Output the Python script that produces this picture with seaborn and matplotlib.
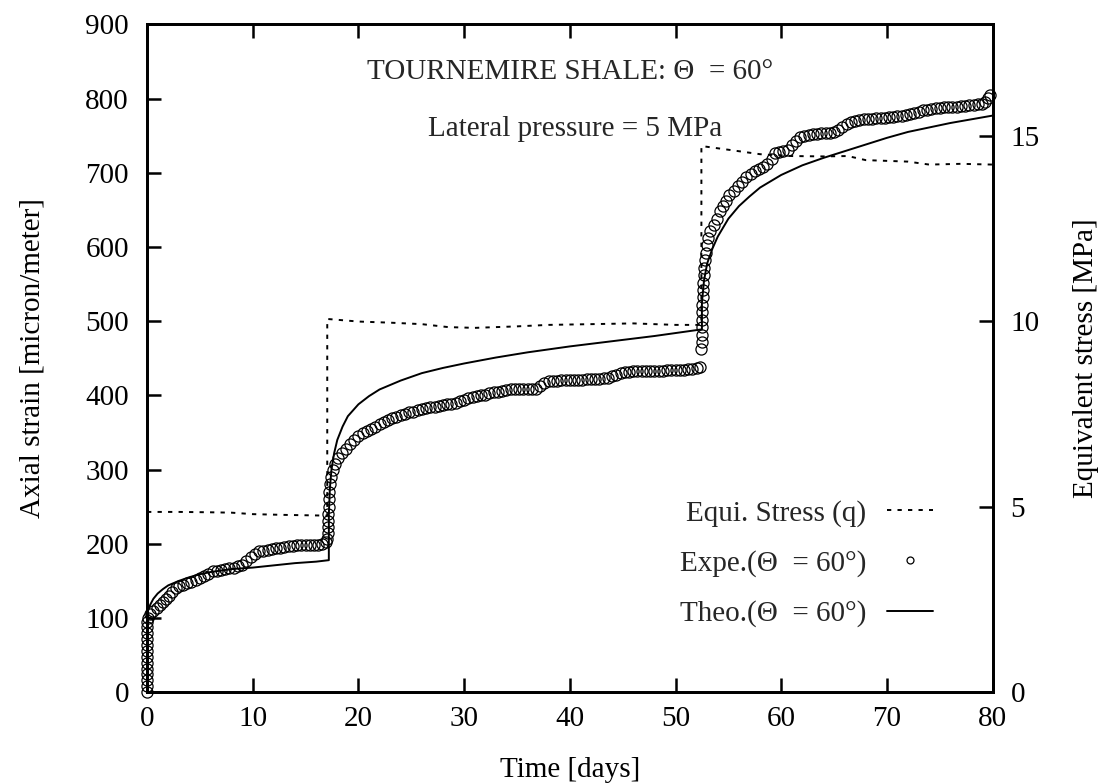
import matplotlib
matplotlib.use("Agg")
import matplotlib.pyplot as plt
from matplotlib.lines import Line2D
import numpy as np
import pandas as pd
import seaborn as sns

# ---------------- data ----------------
# Experimental points: time [days] and axial strain [micron/meter]
exp_day = [
    0, 0, 0, 0, 0, 0, 0, 0, 0, 0, 0, 0, 0,
    0.1, 0.3, 0.6, 0.9, 1.2, 1.5, 1.8, 2.1, 2.4, 2.7, 3.0, 3.4, 3.8, 4.2, 4.6,
    5.0, 5.4, 5.8, 6.2, 6.6, 7.0, 7.4, 7.8, 8.2, 8.6, 9.0, 9.4, 9.8, 10.2, 10.6,
    11.0, 11.4, 11.8, 12.2, 12.6, 13.0, 13.4, 13.8, 14.2, 14.6, 15.0, 15.4, 15.8,
    16.2, 16.6, 16.9,
    17.05, 17.1, 17.1, 17.12, 17.15, 17.18, 17.2, 17.25, 17.3, 17.4, 17.6, 17.8,
    18.1, 18.4, 18.8, 19.2, 19.6, 20.0, 20.4, 20.8, 21.2, 21.6, 22.0, 22.4, 22.8,
    23.2, 23.6, 24.0, 24.4, 24.8, 25.2, 25.6, 26.0, 26.4, 26.8, 27.2, 27.6, 28.0,
    28.4, 28.8, 29.2, 29.6, 30.0, 30.4, 30.8, 31.2, 31.6, 32.0, 32.4, 32.8, 33.2,
    33.6, 34.0, 34.4, 34.8, 35.2, 35.6, 36.0, 36.4, 36.8, 37.2, 37.6, 38.0, 38.4,
    38.8, 39.2, 39.6, 40.0, 40.4, 40.8, 41.2, 41.6, 42.0, 42.4, 42.8, 43.2, 43.6,
    44.0, 44.4, 44.8, 45.2, 45.6, 46.0, 46.4, 46.8, 47.2, 47.6, 48.0, 48.4, 48.8,
    49.2, 49.6, 50.0, 50.4, 50.8, 51.2, 51.6, 52.0, 52.3,
    52.45, 52.48, 52.5, 52.5, 52.52, 52.53, 52.55, 52.57, 52.6, 52.63, 52.67,
    52.72, 52.78, 52.85, 52.95, 53.1, 53.3, 53.6, 53.9, 54.2, 54.5, 54.8, 55.1,
    55.5, 55.9, 56.3, 56.7, 57.1, 57.5, 57.9, 58.3, 58.7, 59.1, 59.4, 59.8, 60.2,
    60.6, 61.0, 61.4, 61.8, 62.2, 62.6, 63.0, 63.4, 63.8, 64.2, 64.6, 65.0, 65.4,
    65.8, 66.2, 66.6, 67.0, 67.4, 67.8, 68.2, 68.6, 69.0, 69.4, 69.8, 70.2, 70.6,
    71.0, 71.4, 71.8, 72.2, 72.6, 73.0, 73.4, 73.8, 74.2, 74.6, 75.0, 75.4, 75.8,
    76.2, 76.6, 77.0, 77.4, 77.8, 78.2, 78.6, 79.0, 79.3, 79.6, 79.8,
]
exp_strain = [
    0, 8, 16, 24, 32, 40, 48, 56, 64, 72, 80, 88, 95,
    100, 106, 110, 114, 118, 122, 126, 130, 135, 140, 143, 145, 147, 149, 151,
    154, 156, 160, 163, 164, 165, 166, 167, 168, 170, 172, 177, 182, 186, 190,
    191, 192, 193, 194, 195, 196, 197, 197, 198, 198, 198, 199, 199,
    199, 200, 202,
    207, 215, 223, 231, 240, 250, 260, 270, 280, 290, 300, 308,
    316, 322, 328, 334, 340, 345, 349, 352, 355, 358, 361, 364, 367,
    369, 371, 373, 375, 377, 378, 380, 381, 383, 384, 385, 386, 387,
    388, 389, 390, 392, 394, 396, 398, 399, 400, 401, 403, 404, 405,
    406, 407, 408, 408, 408, 408, 408, 408, 409, 413, 417, 419, 420,
    420, 421, 421, 421, 421, 421, 421, 422, 422, 422, 422, 423, 424,
    426, 428, 430, 431, 432, 433, 433, 433, 433, 433, 433, 433, 433,
    434, 434, 434, 434, 434, 435, 436, 437, 438,
    462, 472, 482, 492, 502, 512, 522, 532, 542, 552, 562,
    572, 582, 592, 602, 612, 622, 630, 638, 648, 655, 662, 670,
    676, 682, 688, 694, 698, 702, 705, 708, 712, 718, 726, 728, 729,
    731, 738, 743, 748, 750, 751, 752, 752, 753, 753, 754, 755, 758,
    762, 766, 768, 770, 771, 772, 773, 773, 774, 774, 774, 775, 775,
    776, 777, 778, 779, 780, 782, 784, 785, 786, 787, 787, 788, 788,
    789, 789, 790, 790, 791, 791, 792, 793, 795, 801, 805,
]

# Theoretical curve
theo_day = [
    0, 0, 0.1, 0.3, 0.6, 1.0, 1.5, 2.0, 2.5, 3.0, 4.0, 5.0, 6.0, 7.0, 8.0, 9.0,
    10.0, 12.0, 14.0, 16.0, 17.2,
    17.2, 17.3, 17.45, 17.7, 18.0, 18.5, 19.0, 20.0, 21.0, 22.0, 24.0, 26.0,
    28.0, 30.0, 33.0, 36.0, 40.0, 44.0, 48.0, 52.5,
    52.5, 52.7, 53.0, 53.5, 54.0, 55.0, 56.0, 57.0, 58.0, 60.0, 62.0, 64.0,
    66.0, 68.0, 70.0, 72.0, 74.0, 76.0, 78.0, 80.0,
]
theo_strain = [
    0, 100, 110, 118, 126, 133, 139, 144, 147, 150, 155, 159, 162, 164, 166, 167,
    168, 171, 174, 176, 178,
    240, 275, 300, 322, 340, 358, 372, 388, 399, 408, 420, 430,
    437, 443, 451, 458, 466, 473, 480, 489,
    525, 555, 578, 598, 614, 638, 655, 668, 680, 697, 710, 720,
    729, 738, 747, 755, 761, 767, 772, 777,
]

# Equivalent stress q [MPa]
stress_day = [
    0, 3, 6, 8, 10, 13, 17.05,
    17.05, 20, 23, 26, 28.5, 31, 35, 38, 42, 46, 50, 52.45,
    52.45, 55, 58, 61, 64, 66.3, 68, 72, 74, 77, 80,
]
stress_mpa = [
    4.86, 4.86, 4.85, 4.84, 4.80, 4.78, 4.76,
    10.06, 9.99, 9.96, 9.92, 9.84, 9.82, 9.86, 9.90, 9.92, 9.94, 9.90, 9.90,
    14.72, 14.62, 14.50, 14.45, 14.44, 14.45, 14.34, 14.30, 14.22, 14.24, 14.22,
]

x_ticks = [0, 10, 20, 30, 40, 50, 60, 70, 80]
y_ticks = [0, 100, 200, 300, 400, 500, 600, 700, 800, 900]
y2_ticks = [0, 5, 10, 15]

lbl_stress = "Equi. Stress (q)"
lbl_exp = "Expe.(\u0398  = 60\u00b0)"
lbl_theo = "Theo.(\u0398  = 60\u00b0)"

# ---------------- styling ----------------
sns.set_theme(style="ticks")
plt.rcParams['font.family'] = ['Liberation Serif', 'DejaVu Serif']
FS = 21

exp_df = pd.DataFrame({"day": exp_day, "strain": exp_strain})
theo_df = pd.DataFrame({"day": theo_day, "strain": theo_strain})
stress_df = pd.DataFrame({"day": stress_day, "q": stress_mpa})

fig = plt.figure(figsize=(11.14, 7.84), dpi=100)
ax = fig.add_axes([0.132, 0.117, 0.759, 0.852])
ax2 = ax.twinx()

sns.lineplot(data=theo_df, x="day", y="strain", ax=ax, sort=False,
             estimator=None, color="black", linewidth=1.4, legend=False,
             zorder=3)
sns.lineplot(data=exp_df, x="day", y="strain", ax=ax, sort=False,
             estimator=None, color="black", linestyle="none", marker="o",
             markersize=8, markerfacecolor="none", markeredgecolor="black",
             markeredgewidth=0.9, legend=False, zorder=2, clip_on=False)
sns.lineplot(data=stress_df, x="day", y="q", ax=ax2, sort=False,
             estimator=None, color="black", linewidth=1.4,
             linestyle=(0, (2.2, 3.2)), legend=False)

ax.set_xlim(0, 80)
ax.set_ylim(0, 900)
ax2.set_ylim(0, 18)
ax.set_xticks(x_ticks)
ax.set_yticks(y_ticks)
ax2.set_yticks(y2_ticks)
ax.set_xticklabels([str(v) for v in x_ticks], fontsize=FS)
ax.set_yticklabels([str(v) for v in y_ticks], fontsize=FS)
ax2.set_yticklabels([str(v) for v in y2_ticks], fontsize=FS)

ax.tick_params(axis="x", direction="in", length=10, width=1.8, pad=10,
               top=True, bottom=True, colors="black")
ax.tick_params(axis="y", direction="in", length=10, width=1.8, pad=13,
               left=True, right=False, colors="black")
ax2.tick_params(axis="y", direction="in", length=10, width=1.8, pad=13,
                colors="black")

for a in (ax, ax2):
    for s in a.spines.values():
        s.set_linewidth(2.0)
        s.set_color("black")

ax.set_xlabel("Time [days]", fontsize=FS, labelpad=18, color="black")
ax.set_ylabel("Axial strain [micron/meter]", fontsize=FS, labelpad=29,
              color="black")
ax2.set_ylabel("Equivalent stress [MPa]", fontsize=FS, labelpad=24,
               color="black")

ax.text(0.5, 0.928, "TOURNEMIRE SHALE: \u0398  = 60\u00b0",
        transform=ax.transAxes, ha="center", va="center", fontsize=FS)
ax.text(0.506, 0.844, "Lateral pressure = 5 MPa",
        transform=ax.transAxes, ha="center", va="center", fontsize=FS)

handles = [
    Line2D([], [], color="black", linewidth=1.4, linestyle=(0, (2.2, 3.2))),
    Line2D([], [], color="black", linestyle="none", marker="o", markersize=5,
           markerfacecolor="none", markeredgewidth=0.9),
    Line2D([], [], color="black", linewidth=1.4),
]
leg = ax2.legend(handles, [lbl_stress, lbl_exp, lbl_theo], loc="upper right",
                 bbox_to_anchor=(0.947, 0.31), markerfirst=False,
                 frameon=False, fontsize=FS, handlelength=1.6,
                 handletextpad=0.7, labelspacing=0.8, borderpad=0)

fig.savefig("out.png", dpi=100)
